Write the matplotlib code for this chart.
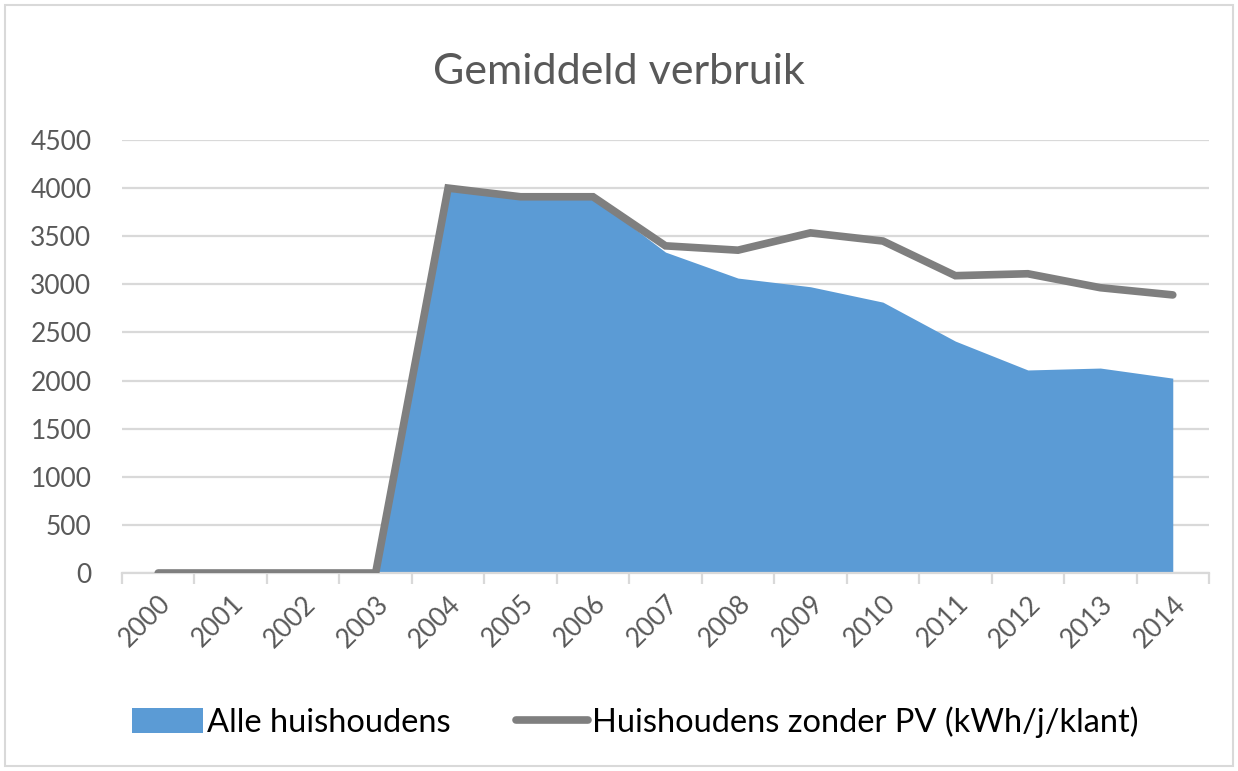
import numpy as np
import matplotlib.pyplot as plt
from matplotlib.patches import Rectangle

plt.rcParams['font.family'] = ['Lato', 'DejaVu Sans']

## Data
years = ['2000', '2001', '2002', '2003', '2004', '2005', '2006', '2007',
         '2008', '2009', '2010', '2011', '2012', '2013', '2014']
alle = [0, 0, 0, 0, 3970, 3905, 3905, 3335, 3065, 2975, 2815, 2410, 2110, 2130, 2025]
zonder_pv = [0, 0, 0, 0, 4000, 3910, 3910, 3400, 3355, 3535, 3450, 3090, 3110, 2965, 2890]

blue = '#5B9BD5'
grey = '#7F7F7F'
txt = '#595959'
gridc = '#D9D9D9'

x = np.arange(len(years))

fig = plt.figure(figsize=(12.38, 7.71), dpi=100)
ax = fig.add_axes([122/1238, 1-573/771, (1209-122)/1238, (573-140)/771])

ax.fill_between(x, 0, alle, color=blue, linewidth=0, label='Alle huishoudens', zorder=2)
ax.plot(x, zonder_pv, color=grey, linewidth=5.5, solid_capstyle='round', solid_joinstyle='miter',
        label='Huishoudens zonder PV (kWh/j/klant)', zorder=3)

ax.set_xlim(-0.5, len(years) - 0.5)
ax.set_ylim(0, 4500)
ax.set_yticks(np.arange(0, 4501, 500))
ax.grid(axis='y', color=gridc, linewidth=1.6, zorder=0)
ax.set_axisbelow(True)

ax.set_xticks(x)
ax.set_xticklabels(years, rotation=45, ha='right', va='top', rotation_mode='anchor',
                   fontsize=19, color=txt)
ax.set_xticks(np.arange(-0.5, len(years), 1), minor=True)
ax.tick_params(axis='x', which='major', length=0, pad=13)
ax.tick_params(axis='x', which='minor', length=8, width=1.6, color=gridc)
ax.tick_params(axis='y', length=0, pad=22, labelsize=19, labelcolor=txt)

for s in ['top', 'right', 'left']:
    ax.spines[s].set_visible(False)
ax.spines['bottom'].set_color(gridc)
ax.spines['bottom'].set_linewidth(1.6)

fig.text(0.5, 1-72/771, 'Gemiddeld verbruik', ha='center', va='center', fontsize=31, color=txt)

fig.legend(loc='center', bbox_to_anchor=(0.513, 1-722/771), ncol=2, frameon=False,
           fontsize=23.5, handlelength=2.2, handleheight=0.8, handletextpad=0.12,
           columnspacing=2.0)

fig.patches.append(Rectangle((5/1238, 5/771), 1228/1238, 761/771, transform=fig.transFigure,
                             fill=False, edgecolor=gridc, linewidth=1.5))

fig.savefig('out.png', dpi=100)
